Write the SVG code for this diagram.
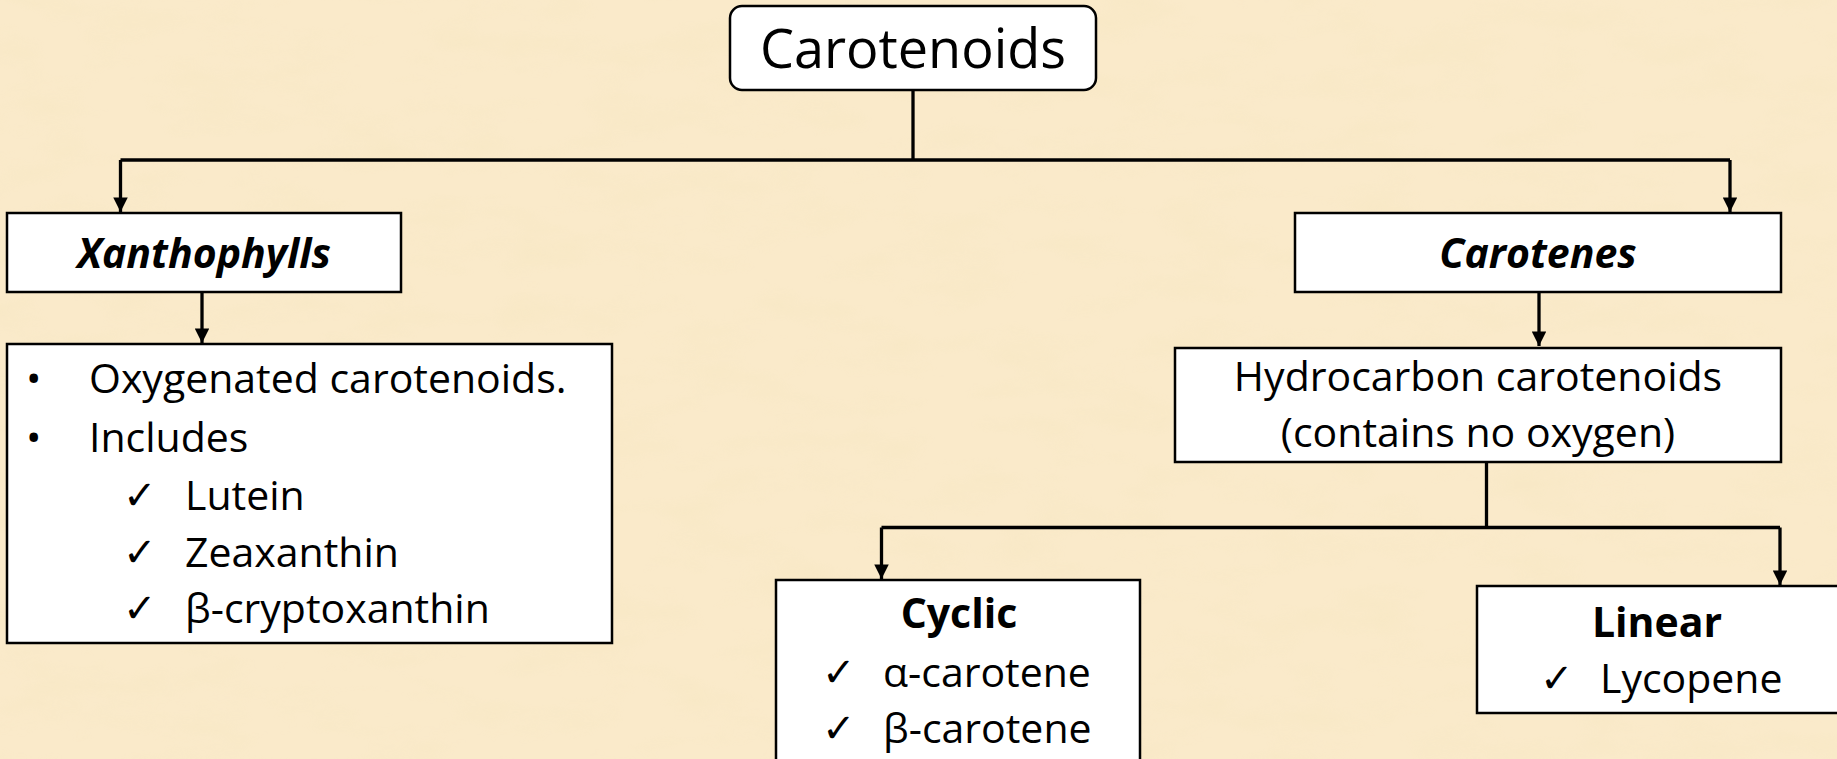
<svg xmlns="http://www.w3.org/2000/svg" width="1837" height="759" viewBox="0 0 1837 759">
<defs>
<marker id="ah" viewBox="0 0 10 10" refX="10" refY="5" markerWidth="4.6" markerHeight="4.4" markerUnits="strokeWidth" orient="auto">
<path d="M0,0 L10,5 L0,10 Z" fill="#000"/>
</marker>
<filter id="tex" x="0" y="0" width="100%" height="100%">
<feTurbulence type="fractalNoise" baseFrequency="0.012 0.03" numOctaves="4" seed="7"/>
<feColorMatrix type="matrix" values="0 0 0 0 0.93  0 0 0 0 0.80  0 0 0 0 0.55  0 0 0 2.2 -1.0"/>
</filter>
</defs>
<style>
.box{fill:#fff;stroke:#000;stroke-width:2.5}
.con{fill:none;stroke:#000;stroke-width:3.3}
.t{font-family:"Open Sans","Liberation Sans",sans-serif;font-size:41px;fill:#000}
.big{font-size:54px}
.b{font-weight:bold;font-size:41px}
.bi{font-weight:bold;font-style:italic;font-size:41px}
.ck{font-family:"DejaVu Sans",sans-serif;font-size:40px;font-weight:bold;fill:#000}
</style>
<rect width="1837" height="759" fill="#FAEACA"/>
<rect width="1837" height="759" filter="url(#tex)" opacity="0.6"/>
<g id="connectors">
<path class="con" d="M913,90 V160"/>
<path class="con" d="M120.5,160 H1730"/>
<path class="con" d="M120.5,160 V212" marker-end="url(#ah)"/>
<path class="con" d="M1730,160 V212" marker-end="url(#ah)"/>
<path class="con" d="M202,292 V343" marker-end="url(#ah)"/>
<path class="con" d="M1539,292 V346" marker-end="url(#ah)"/>
<path class="con" d="M1486.5,462 V527.5"/>
<path class="con" d="M881.5,527.5 H1780"/>
<path class="con" d="M881.5,527.5 V579" marker-end="url(#ah)"/>
<path class="con" d="M1780,527.5 V585" marker-end="url(#ah)"/>
</g>
<g id="carotenoids">
<rect class="box" x="730" y="6" width="366" height="84" rx="12"/>
<text class="t big" x="913" y="68" text-anchor="middle">Carotenoids</text>
</g>
<g id="xanthophylls">
<rect class="box" x="7" y="213" width="394" height="79"/>
<text class="t bi" x="204" y="268" text-anchor="middle">Xanthophylls</text>
</g>
<g id="xanthophylls-info">
<rect class="box" x="7" y="344" width="605" height="299"/>
<text class="t" x="26" y="393">•</text>
<text class="t" x="89" y="393">Oxygenated carotenoids.</text>
<text class="t" x="26" y="452">•</text>
<text class="t" x="89" y="452">Includes</text>
<text class="ck" x="123" y="509">✓</text>
<text class="t" x="185" y="510">Lutein</text>
<text class="ck" x="123" y="566">✓</text>
<text class="t" x="185" y="567">Zeaxanthin</text>
<text class="ck" x="123" y="622">✓</text>
<text class="t" x="185" y="623">β-cryptoxanthin</text>
</g>
<g id="carotenes">
<rect class="box" x="1295" y="213" width="486" height="79"/>
<text class="t bi" x="1538" y="268" text-anchor="middle">Carotenes</text>
</g>
<g id="hydrocarbon">
<rect class="box" x="1175" y="348" width="606" height="114"/>
<text class="t" x="1478" y="391" text-anchor="middle">Hydrocarbon carotenoids</text>
<text class="t" x="1478" y="447" text-anchor="middle">(contains no oxygen)</text>
</g>
<g id="cyclic">
<rect class="box" x="776" y="580" width="364" height="190"/>
<text class="t b" x="959" y="628" text-anchor="middle">Cyclic</text>
<text class="ck" x="822" y="686">✓</text>
<text class="t" x="883" y="687">α-carotene</text>
<text class="ck" x="822" y="742">✓</text>
<text class="t" x="883" y="743">β-carotene</text>
</g>
<g id="linear">
<rect class="box" x="1477" y="586" width="370" height="127"/>
<text class="t b" x="1657" y="637" text-anchor="middle">Linear</text>
<text class="ck" x="1540" y="692">✓</text>
<text class="t" x="1600" y="693">Lycopene</text>
</g>
</svg>
